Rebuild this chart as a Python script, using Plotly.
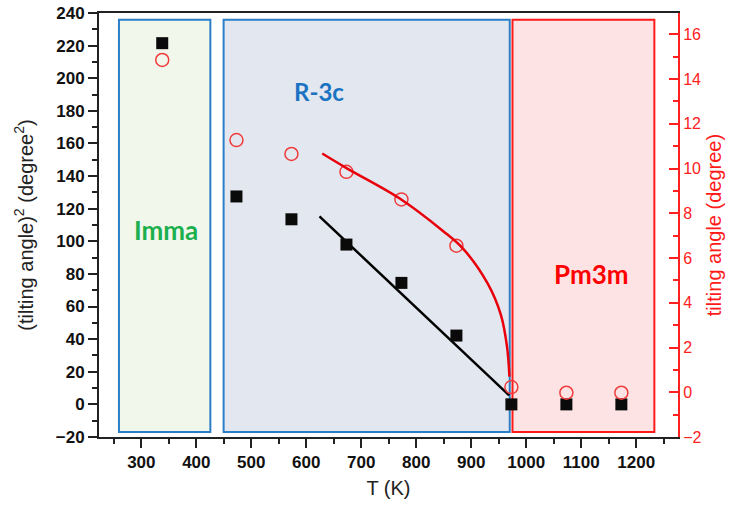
import plotly.graph_objects as go

# Temperatures (K) of the measurements
T = [338, 473, 573, 673, 773, 873, 973, 1073, 1173]
# Squared octahedral tilting angle (degree^2), left axis
tilt_sq = [221.5, 127.5, 113.5, 98.0, 74.5, 42.2, 0.0, 0.0, 0.0]
# Tilting angle (degree), right axis
tilt = [14.85, 11.27, 10.65, 9.85, 8.62, 6.55, 0.23, -0.02, -0.02]

# Linear fit of tilt^2 in the R-3c range
lin_T = [624, 969]
lin_sq = [115.3, 5.5]

# Order-parameter fit of the tilt angle in the R-3c range
pow_T = [629, 673, 770, 848, 885, 930, 954, 965, 969.5]
pow_tilt = [10.67, 10.02, 8.66, 7.22, 6.42, 4.85, 3.45, 2.05, 0.7]

# Phase regions: label, T range, label position, colours, label size
phases = [
    ("Imma", 259.3, 425.5, 345, 107, "#f2f7ec", "#2a7fc6", "#1caf4d", 26),
    ("R-3c", 449.6, 970.0, 623, 192, "#e3e7ef", "#2a7fc6", "#1b73c2", 24),
    ("Pm3m", 975.0, 1233.0, 1118, 80, "#fee3e4", "#ff1a1a", "#ff0000", 26),
]
region_y = (-16.9, 235.9)

fig = go.Figure()

fig.add_trace(go.Scatter(x=lin_T, y=lin_sq, mode="lines",
                         line=dict(color="black", width=2.5), yaxis="y"))
fig.add_trace(go.Scatter(x=T, y=tilt_sq, mode="markers",
                         marker=dict(symbol="square", size=12, color="#0a0a0a"),
                         yaxis="y"))
fig.add_trace(go.Scatter(x=T, y=tilt, mode="markers",
                         marker=dict(symbol="circle-open", size=13,
                                     color="#f03c3c", line=dict(width=1.5)),
                         yaxis="y2"))
fig.add_trace(go.Scatter(x=pow_T, y=pow_tilt, mode="lines",
                         line=dict(color="#e8000b", width=2.5, shape="spline"),
                         yaxis="y2"))

for name, x0, x1, lx, ly, fill, edge, tcol, fsize in phases:
    fig.add_shape(type="rect", xref="x", yref="y", x0=x0, x1=x1,
                  y0=region_y[0], y1=region_y[1], fillcolor=fill,
                  line=dict(color=edge, width=2), layer="below")
    fig.add_annotation(x=lx, y=ly, xref="x", yref="y", text=name,
                       showarrow=False,
                       font=dict(family="Lato", size=fsize, color=tcol,
                                 weight="bold"))

tickfont = dict(family="Liberation Sans", size=17, color="#111111",
                weight="bold")
titlefont = dict(family="Liberation Sans", size=20, color="#222222")

fig.update_layout(
    width=729, height=508,
    margin=dict(l=99, r=51, t=13, b=71),
    paper_bgcolor="white", plot_bgcolor="white",
    showlegend=False,
    xaxis=dict(
        range=[223, 1276], dtick=100, tick0=0, automargin=False,
        showline=True, linecolor="#222222", linewidth=2, mirror=True,
        ticks="outside", ticklen=9, tickwidth=2, tickcolor="#222222",
        minor=dict(dtick=50, ticks="outside", ticklen=5, tickwidth=2,
                   tickcolor="#222222"),
        showgrid=False, zeroline=False, tickfont=tickfont,
        title=dict(text="T (K)", font=titlefont, standoff=10),
    ),
    yaxis=dict(
        range=[-20, 240], dtick=20, tick0=0, automargin=False,
        showline=True, linecolor="#222222", linewidth=2,
        ticks="outside", ticklen=9, tickwidth=2, tickcolor="#222222",
        minor=dict(dtick=10, ticks="outside", ticklen=5, tickwidth=2,
                   tickcolor="#222222"),
        showgrid=False, zeroline=False, tickfont=tickfont,
        title=dict(text="(tilting angle)<sup>2</sup> (degree<sup>2</sup>)",
                   font=titlefont, standoff=17),
    ),
    yaxis2=dict(
        overlaying="y", side="right", automargin=False,
        range=[-2, 16.95], dtick=2, tick0=0,
        showline=True, linecolor="#ff2020", linewidth=2,
        ticks="inside", ticklen=9, tickwidth=2, tickcolor="#ff2020",
        minor=dict(dtick=1, ticks="inside", ticklen=5, tickwidth=2,
                   tickcolor="#ff2020"),
        showgrid=False, zeroline=False,
        tickfont=dict(family="Liberation Sans", size=16, color="#ff2020"),
        title=dict(text="tilting angle (degree)",
                   font=dict(family="Liberation Sans", size=20,
                             color="#ff1a1a"), standoff=6),
    ),
)

fig.write_html("out.html")
